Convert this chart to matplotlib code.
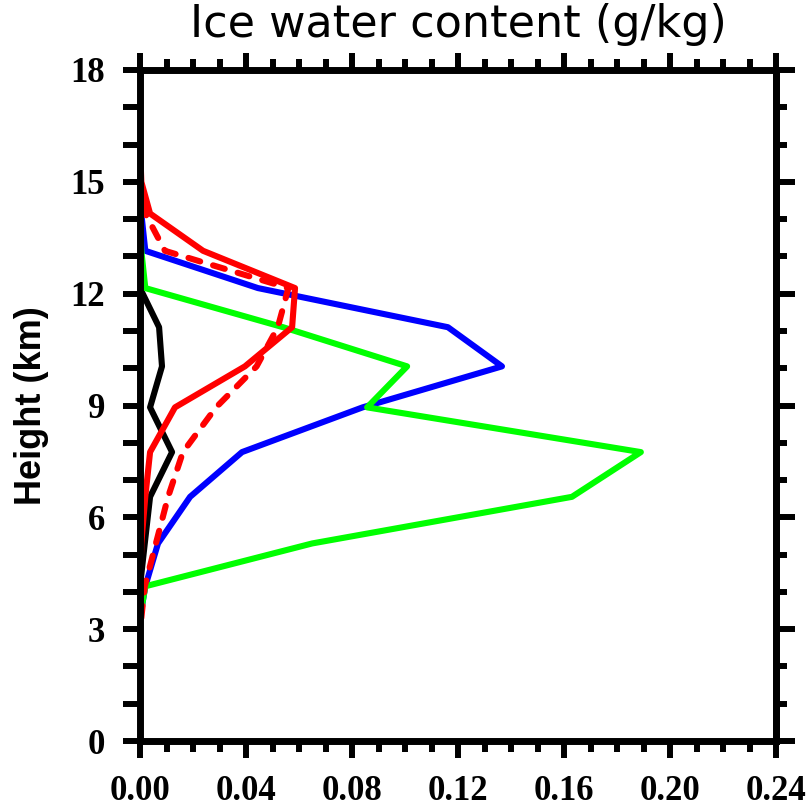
import numpy as np
import matplotlib.pyplot as plt
from matplotlib.ticker import MultipleLocator, FormatStrFormatter

# model levels (km)
height = [3.3, 4.15, 5.3, 6.55, 7.75, 8.95, 10.05, 11.1, 12.15, 13.15, 14.15, 15.0, 16.0]

# ice water content (g/kg)
iwc_black = [0.0, 0.0, 0.0018, 0.0038, 0.0121, 0.0038, 0.0083, 0.0072, 0.0, 0.0, 0.0, 0.0, 0.0]
iwc_blue = [0.0, 0.002, 0.0068, 0.0189, 0.0385, 0.084, 0.1366, 0.1162, 0.0445, 0.002, 0.0005, 0.0, 0.0]
iwc_green = [0.0, 0.002, 0.065, 0.163, 0.189, 0.0857, 0.1008, 0.054, 0.002, 0.0005, 0.0, 0.0, 0.0]
iwc_red = [0.0, 0.0, 0.0005, 0.002, 0.0038, 0.0132, 0.0396, 0.0574, 0.0585, 0.0238, 0.0038, 0.0005, 0.0]
iwc_red_dash = [0.0005, 0.0018, 0.006, 0.0106, 0.0162, 0.0287, 0.044, 0.052, 0.056, 0.0094, 0.002, 0.0, 0.0]

fig = plt.figure(figsize=(8.11, 8.10), dpi=100)
ax = fig.add_axes([140/811, 69/810, 636/811, 671/810])

lw = 4.4
ax.plot(iwc_black, height, color='black', lw=lw, solid_joinstyle='round', solid_capstyle='round')
ax.plot(iwc_blue, height, color='blue', lw=lw, solid_joinstyle='round', solid_capstyle='round')
ax.plot(iwc_green, height, color='#00ff00', lw=lw, solid_joinstyle='round', solid_capstyle='round')
ax.plot(iwc_red, height, color='red', lw=lw, solid_joinstyle='round', solid_capstyle='round')
ln, = ax.plot(iwc_red_dash, height, color='red', lw=lw, dash_capstyle='round', dash_joinstyle='round')
ln.set_dashes((2.0, 2.2))

ax.set_xlim(0, 0.24)
ax.set_ylim(0, 18)

ax.xaxis.set_major_locator(MultipleLocator(0.04))
ax.xaxis.set_minor_locator(MultipleLocator(0.01))
ax.xaxis.set_major_formatter(FormatStrFormatter('%.2f'))
ax.yaxis.set_major_locator(MultipleLocator(3))
ax.yaxis.set_minor_locator(MultipleLocator(1))

for s in ax.spines.values():
    s.set_linewidth(5)

tick_font = {'family': 'Liberation Serif', 'weight': 'bold', 'size': 25}
ax.tick_params(axis='x', which='both', direction='out', top=True, bottom=True, width=4.3, pad=12)
ax.tick_params(axis='x', which='major', length=12.5)
ax.tick_params(axis='x', which='minor', length=8)
ax.tick_params(axis='y', which='both', direction='out', left=True, right=False, width=4.3, pad=13, length=12)
for lab in ax.get_xticklabels() + ax.get_yticklabels():
    lab.set_fontproperties(tick_font)

# right side ticks (longer major, shorter minor)
sec = ax.secondary_yaxis('right')
sec.yaxis.set_major_locator(MultipleLocator(3))
sec.yaxis.set_minor_locator(MultipleLocator(1))
sec.tick_params(axis='y', which='both', direction='out', width=4.3, labelright=False)
sec.tick_params(axis='y', which='major', length=13.5)
sec.tick_params(axis='y', which='minor', length=8)
sec.spines['right'].set_linewidth(5)

ax.set_ylabel('Height (km)', family='Liberation Sans', weight='bold', fontsize=26)
ax.yaxis.set_label_coords(-0.143, 0.5)

ax.text(0.5, 1.049, 'Ice water content (g/kg)', transform=ax.transAxes,
        ha='center', va='baseline', family='DejaVu Sans', fontsize=32)

fig.savefig('out.png', dpi=100)
